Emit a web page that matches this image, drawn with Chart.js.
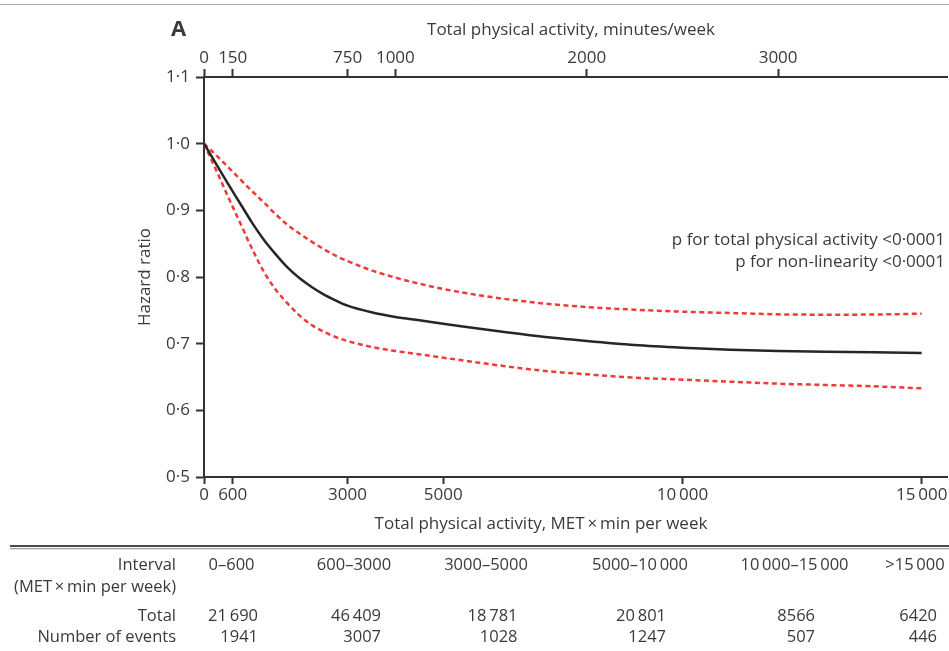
<!DOCTYPE html>
<html>
<head>
<meta charset="utf-8">
<title>Total physical activity and hazard ratio</title>
<script src="https://cdn.jsdelivr.net/npm/chart.js@4/dist/chart.umd.min.js"></script>
<style>
  html, body { margin: 0; padding: 0; background: #fff; }
  canvas { display: block; }
</style>
</head>
<body>
<canvas id="chart" width="949" height="651"></canvas>
<script>
// Exposure grid (MET × min per week) and the fitted spline with its 95% band
const metPoints  = [0, 250, 500, 750, 1000, 1250, 1500, 1750, 2000, 2250, 2500, 2750, 3000, 3500, 4000, 4500, 5000, 6000, 7000, 8000, 9000, 10000, 11000, 12000, 13000, 14000, 15000];
const hrEstimate = [1.000, 0.970, 0.940, 0.911, 0.882, 0.856, 0.834, 0.814, 0.798, 0.785, 0.774, 0.765, 0.757, 0.747, 0.740, 0.735, 0.730, 0.720, 0.711, 0.704, 0.698, 0.694, 0.691, 0.689, 0.688, 0.687, 0.686];
const hrLower    = [1.000, 0.961, 0.921, 0.882, 0.843, 0.808, 0.781, 0.760, 0.742, 0.728, 0.718, 0.710, 0.704, 0.695, 0.689, 0.684, 0.679, 0.669, 0.660, 0.654, 0.649, 0.646, 0.643, 0.640, 0.638, 0.636, 0.633];
const hrUpper    = [1.000, 0.983, 0.965, 0.947, 0.929, 0.912, 0.894, 0.878, 0.865, 0.853, 0.842, 0.832, 0.824, 0.810, 0.799, 0.790, 0.782, 0.770, 0.761, 0.755, 0.751, 0.748, 0.746, 0.744, 0.7435, 0.7437, 0.745];

// Axis ticks
const metTickValues    = [0, 600, 3000, 5000, 10000, 15000];
const minuteTickValues = [0, 150, 750, 1000, 2000, 3000];
const hrTickValues     = [0.5, 0.6, 0.7, 0.8, 0.9, 1.0, 1.1];

// Counts per exposure interval
const intervalLabels    = ['0–600', '600–3000', '3000–5000', '5000–10\u2009000', '10\u2009000–15\u2009000', '>15\u2009000'];
const participantTotals = [21690, 46409, 18781, 20801, 8566, 6420];
const eventCounts       = [1941, 3007, 1028, 1247, 507, 446];
const rowLabels         = ['Interval', '(MET\u2009×\u2009min per week)', 'Total', 'Number of events'];

const pValueLines = ['p for total physical activity <0·0001', 'p for non-linearity <0·0001'];

const MET_MAX = 15530;           // right end of the axis lines
const MET_PER_MINUTE = 4;        // minutes/week axis = MET-min / 4
const TEXT = '#3a3a3a';
const AXIS = '#333333';
const FONT = "'Open Sans', sans-serif";

const thinThousands = v => v >= 10000 ? String(v).replace(/(\d+)(\d{3})$/, '$1\u2009$2') : String(v);
const decimalDot = v => v.toFixed(1).replace('.', '·');
const toPoints = ys => metPoints.map((m, i) => ({ x: m, y: ys[i] }));

// Titles, p values, panel letter and the counts table
const panelDecor = {
  id: 'panelDecor',
  beforeDraw(chart) {
    const ctx = chart.ctx;
    ctx.save();
    ctx.fillStyle = '#fff';
    ctx.fillRect(0, 0, chart.width, chart.height);
    ctx.restore();
  },
  afterDraw(chart) {
    const ctx = chart.ctx;
    ctx.save();

    // thin rule along the top edge
    ctx.strokeStyle = '#a9a9a9';
    ctx.lineWidth = 1;
    ctx.beginPath(); ctx.moveTo(0, 4.5); ctx.lineTo(chart.width, 4.5); ctx.stroke();

    ctx.fillStyle = TEXT;
    ctx.textBaseline = 'alphabetic';

    ctx.font = 'bold 22px ' + FONT;
    ctx.textAlign = 'left';
    ctx.fillText('A', 171, 35.5);

    ctx.font = '17px ' + FONT;
    ctx.textAlign = 'center';
    ctx.fillText('Total physical activity, minutes/week', 571, 35);
    ctx.fillText('Total physical activity, MET\u2009×\u2009min per week', 541, 529);

    ctx.textAlign = 'right';
    ctx.fillText(pValueLines[0], 945, 244.5);
    ctx.fillText(pValueLines[1], 945, 267);

    // table rule
    ctx.strokeStyle = '#4a4a4a';
    ctx.lineWidth = 2;
    ctx.beginPath(); ctx.moveTo(10, 546); ctx.lineTo(chart.width, 546); ctx.stroke();
    ctx.strokeStyle = '#a0a0a0';
    ctx.lineWidth = 1.2;
    ctx.beginPath(); ctx.moveTo(10, 548.6); ctx.lineTo(chart.width, 548.6); ctx.stroke();

    // table body
    const rowY = [570, 592, 620.5, 642];
    const headerCenters = [231.5, 354, 486, 640, 794.5, 915];
    const numberRights = [258, 381, 517.5, 666, 815, 937];
    ctx.font = '16.5px ' + FONT;
    ctx.textAlign = 'right';
    rowLabels.forEach((t, i) => ctx.fillText(t, 176, rowY[i]));
    ctx.textAlign = 'center';
    intervalLabels.forEach((t, i) => ctx.fillText(t, headerCenters[i], rowY[0]));
    ctx.textAlign = 'right';
    participantTotals.forEach((v, i) => ctx.fillText(thinThousands(v), numberRights[i], rowY[2]));
    eventCounts.forEach((v, i) => ctx.fillText(thinThousands(v), numberRights[i], rowY[3]));

    ctx.restore();
  }
};

const axisGrid = {
  drawOnChartArea: false,
  drawTicks: true,
  tickLength: 8,
  tickWidth: 2,
  tickColor: AXIS
};
const axisBorder = { display: true, color: AXIS, width: 2 };
const tickFont = { family: FONT, size: 17 };

new Chart(document.getElementById('chart'), {
  type: 'line',
  data: {
    datasets: [
      {
        label: 'Hazard ratio',
        data: toPoints(hrEstimate),
        borderColor: '#262626',
        borderWidth: 2.5,
        pointRadius: 0,
        cubicInterpolationMode: 'monotone',
        fill: false
      },
      {
        label: 'Lower 95% CI',
        data: toPoints(hrLower),
        borderColor: '#ef3b36',
        borderWidth: 2.5,
        borderDash: [5, 3.5],
        pointRadius: 0,
        cubicInterpolationMode: 'monotone',
        fill: false
      },
      {
        label: 'Upper 95% CI',
        data: toPoints(hrUpper),
        borderColor: '#ef3b36',
        borderWidth: 2.5,
        borderDash: [5, 3.5],
        pointRadius: 0,
        cubicInterpolationMode: 'monotone',
        fill: false
      }
    ]
  },
  options: {
    responsive: false,
    animation: false,
    devicePixelRatio: 1,
    layout: { padding: { left: 0, right: 2, top: 0, bottom: 0 } },
    plugins: {
      legend: { display: false },
      tooltip: { enabled: false }
    },
    scales: {
      x: {
        type: 'linear',
        position: 'bottom',
        min: 0,
        max: MET_MAX,
        afterBuildTicks: s => { s.ticks = metTickValues.map(v => ({ value: v })); },
        afterFit: s => { s.height = 174; },
        ticks: {
          callback: v => thinThousands(v),
          font: tickFont,
          color: TEXT,
          padding: 1,
          autoSkip: false,
          maxRotation: 0
        },
        grid: { ...axisGrid, tickLength: 7 },
        border: axisBorder
      },
      xTop: {
        type: 'linear',
        position: 'top',
        min: 0,
        max: MET_MAX / MET_PER_MINUTE,
        afterBuildTicks: s => { s.ticks = minuteTickValues.map(v => ({ value: v })); },
        afterFit: s => { s.height = 77; },
        ticks: {
          callback: v => String(v),
          font: tickFont,
          color: TEXT,
          padding: 1,
          autoSkip: false,
          maxRotation: 0
        },
        grid: axisGrid,
        border: axisBorder
      },
      y: {
        type: 'linear',
        position: 'left',
        min: 0.5,
        max: 1.1,
        afterBuildTicks: s => { s.ticks = hrTickValues.map(v => ({ value: v })); },
        afterFit: s => { s.width = 204; },
        ticks: {
          callback: v => decimalDot(v),
          font: tickFont,
          color: TEXT,
          padding: 6
        },
        grid: axisGrid,
        border: axisBorder,
        title: {
          display: true,
          text: 'Hazard ratio',
          color: TEXT,
          font: { family: FONT, size: 17 },
          padding: { top: 135, bottom: 0 }
        }
      }
    }
  },
  plugins: [panelDecor]
});
</script>
</body>
</html>
